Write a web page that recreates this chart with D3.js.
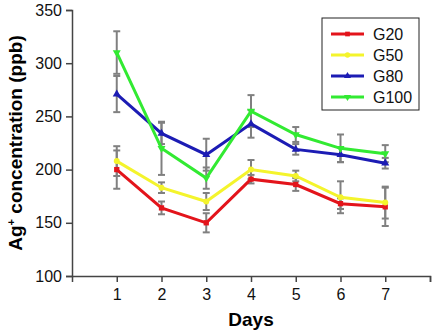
<!DOCTYPE html>
<html>
<head>
<meta charset="utf-8">
<script src="https://cdn.jsdelivr.net/npm/d3@7"></script>
<style>
  body { margin: 0; background: #fff; }
  text { font-family: Arial, "Liberation Sans", sans-serif; }
</style>
</head>
<body>
<div id="chart"></div>
<script>
// data
const days = [1, 2, 3, 4, 5, 6, 7];
const seriesNames = ["G20", "G50", "G80", "G100"];
const g20 = [200, 164, 150, 191, 186, 168, 165];
const g50 = [208, 183, 170, 200, 194, 174, 169];
const g80 = [271, 234, 214, 243, 219, 214, 206];
const g100 = [310, 220, 192, 255, 233, 220, 215];
const g20Err = [18, 6, 9, 4, 6, 5, 18];
const g50Err = [14, 5, 8, 9, 5, 15, 15];
const g80Err = [17, 10, 15, 13, 5, 7, 5];
const g100Err = [20, 25, 10, 15, 7, 13, 8];
const yTicks = [100, 150, 200, 250, 300, 350];

const width = 432, height = 330;
const colors = ["#e3141b", "#f4f42c", "#1c1cb4", "#32ea32"];
const symbols = [d3.symbolSquare, d3.symbolCircle, d3.symbolTriangle, d3.symbolTriangle];

const series = [g20, g50, g80, g100].map((vals, i) => ({
  name: seriesNames[i],
  color: colors[i],
  symbol: symbols[i],
  flip: i === 3,
  points: days.map((d, j) => ({ day: d, v: vals[j], e: [g20Err, g50Err, g80Err, g100Err][i][j] }))
}));

const svg = d3.select("#chart").append("svg")
  .attr("width", width)
  .attr("height", height);

const x = d3.scaleLinear().domain([0, 8]).range([72, 430]);
const y = d3.scaleLinear().domain([100, 350]).range([276, 10]);

// axes
const xAxis = svg.append("g")
  .attr("transform", `translate(0,${y(100)})`)
  .call(d3.axisBottom(x).tickValues([1, 2, 3, 4, 5, 6, 7, 8])
    .tickFormat(d => d === 8 ? "" : d).tickSizeOuter(0).tickSize(6).tickPadding(7));

const yAxis = svg.append("g")
  .attr("transform", `translate(${x(0)},0)`)
  .call(d3.axisLeft(y).tickValues(yTicks).tickSizeOuter(0).tickSize(6).tickPadding(4));

[xAxis, yAxis].forEach(g => {
  g.select(".domain").attr("stroke", "#444").attr("stroke-width", 1.5);
  g.selectAll(".tick line").attr("stroke", "#444").attr("stroke-width", 1.5);
  g.selectAll(".tick text").attr("fill", "#111").style("font-size", "16px");
});

// error bars (gray)
const errG = svg.append("g");
series.forEach(s => {
  const bars = errG.selectAll(null).data(s.points).join("g");
  bars.append("line")
    .attr("x1", d => x(d.day)).attr("x2", d => x(d.day))
    .attr("y1", d => y(d.v - d.e)).attr("y2", d => y(d.v + d.e))
    .attr("stroke", "#808080").attr("stroke-width", 2);
  [-1, 1].forEach(sg => {
    bars.append("line")
      .attr("x1", d => x(d.day) - 3.5).attr("x2", d => x(d.day) + 3.5)
      .attr("y1", d => y(d.v + sg * d.e)).attr("y2", d => y(d.v + sg * d.e))
      .attr("stroke", "#808080").attr("stroke-width", 2);
  });
});

// lines + markers
const line = d3.line().x(d => x(d.day)).y(d => y(d.v));
series.forEach(s => {
  svg.append("path")
    .datum(s.points)
    .attr("fill", "none")
    .attr("stroke", s.color)
    .attr("stroke-width", 3)
    .attr("d", line);
  svg.selectAll(null).data(s.points).join("path")
    .attr("d", d3.symbol().type(s.symbol).size(28))
    .attr("fill", s.color)
    .attr("transform", d => `translate(${x(d.day)},${y(d.v)})${s.flip ? " rotate(180)" : ""}`);
});

// legend
const lg = svg.append("g").attr("transform", "translate(322,18)");
lg.append("rect").attr("width", 97).attr("height", 92)
  .attr("fill", "#fff").attr("stroke", "#222").attr("stroke-width", 1);
series.forEach((s, i) => {
  const yy = 16 + i * 21;
  lg.append("line").attr("x1", 9).attr("x2", 42).attr("y1", yy).attr("y2", yy)
    .attr("stroke", s.color).attr("stroke-width", 3);
  lg.append("path")
    .attr("d", d3.symbol().type(s.symbol).size(22))
    .attr("fill", s.color)
    .attr("transform", `translate(25.5,${yy})${s.flip ? " rotate(180)" : ""}`);
  lg.append("text").attr("x", 51).attr("y", yy + 6)
    .style("font-size", "16px").attr("fill", "#111").text(s.name);
});

// axis titles
svg.append("text")
  .attr("x", x(4)).attr("y", 326)
  .attr("text-anchor", "middle")
  .style("font-size", "19px").style("font-weight", "bold")
  .text("Days");

const yt = svg.append("text")
  .attr("transform", `translate(22,${(y(100) + y(350)) / 2}) rotate(-90)`)
  .attr("text-anchor", "middle")
  .style("font-size", "19px").style("font-weight", "bold");
yt.append("tspan").text("Ag");
yt.append("tspan").attr("dy", -7).style("font-size", "11px").text("+");
yt.append("tspan").attr("dy", 7).text(" concentration (ppb)");
</script>
</body>
</html>
